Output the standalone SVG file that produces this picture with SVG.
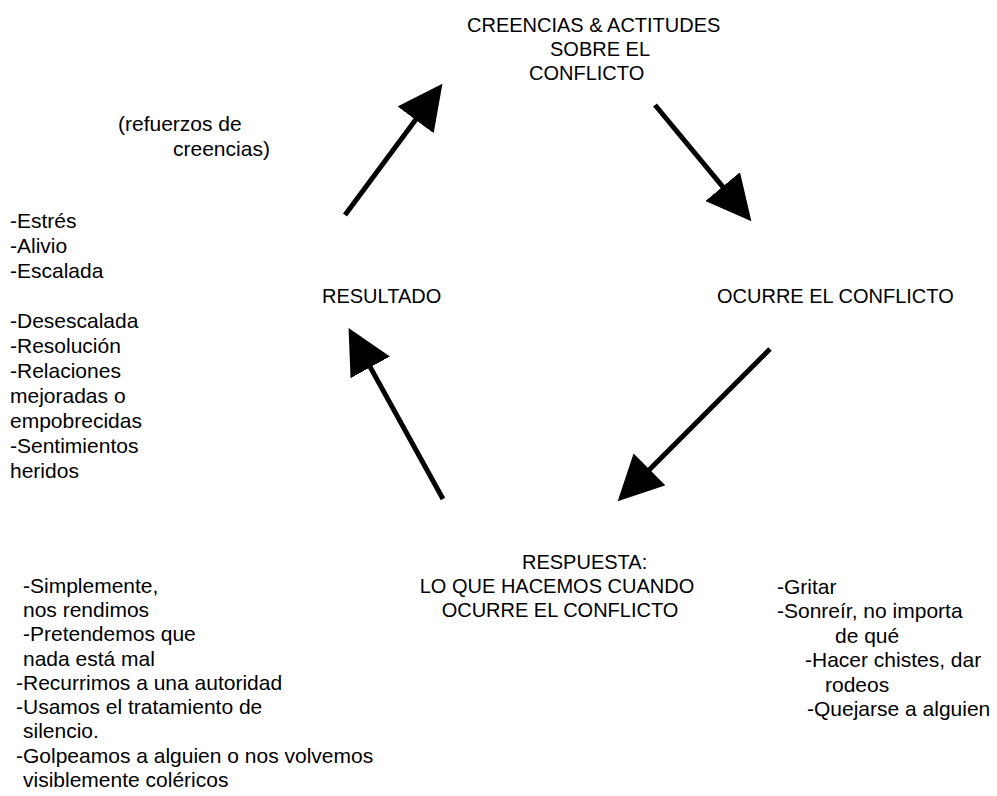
<svg xmlns="http://www.w3.org/2000/svg" width="997" height="796" viewBox="0 0 997 796">
<style>
  text { font-family: "Liberation Sans", Arial, sans-serif; font-size: 20px; fill: #000; }
  .list { font-size: 21px; }
  .mid { text-anchor: middle; }
  .conn { stroke: #000; stroke-width: 5; fill: none; marker-end: url(#ah); }
</style>
<defs>
  <marker id="ah" markerUnits="userSpaceOnUse" markerWidth="46" markerHeight="46" viewBox="0 0 46 46" refX="1" refY="22.5" orient="auto">
    <path d="M0,0 L45,22.5 L0,45 Z" fill="#000"/>
  </marker>
</defs>
<rect width="997" height="796" fill="#fff"/>

<g id="creencias">
  <text x="467" y="32">CREENCIAS &amp; ACTITUDES</text>
  <text x="550" y="56">SOBRE EL</text>
  <text x="529" y="80">CONFLICTO</text>
</g>

<g id="ocurre">
  <text x="717" y="303">OCURRE EL CONFLICTO</text>
</g>

<g id="respuesta">
  <text x="522" y="569">RESPUESTA:</text>
  <text class="mid" x="557" y="593">LO QUE HACEMOS CUANDO</text>
  <text class="mid" x="560" y="617">OCURRE EL CONFLICTO</text>
</g>

<g id="resultado">
  <text x="322" y="303">RESULTADO</text>
</g>

<g id="refuerzos" class="list">
  <text class="list" x="118" y="131">(refuerzos de</text>
  <text class="list" x="173" y="156">creencias)</text>
</g>

<g id="resultado-lista">
  <text class="list" x="10" y="228">-Estrés</text>
  <text class="list" x="10" y="253">-Alivio</text>
  <text class="list" x="10" y="278">-Escalada</text>
  <text class="list" x="10" y="328">-Desescalada</text>
  <text class="list" x="10" y="353">-Resolución</text>
  <text class="list" x="10" y="378">-Relaciones</text>
  <text class="list" x="10" y="403">mejoradas o</text>
  <text class="list" x="10" y="428">empobrecidas</text>
  <text class="list" x="10" y="453">-Sentimientos</text>
  <text class="list" x="10" y="478">heridos</text>
</g>

<g id="respuesta-izq">
  <text class="list" x="23" y="593">-Simplemente,</text>
  <text class="list" x="23" y="617">nos rendimos</text>
  <text class="list" x="23" y="641">-Pretendemos que</text>
  <text class="list" x="23" y="666">nada está mal</text>
  <text class="list" x="16" y="690">-Recurrimos a una autoridad</text>
  <text class="list" x="16" y="714">-Usamos el tratamiento de</text>
  <text class="list" x="23" y="738">silencio.</text>
  <text class="list" x="16" y="763">-Golpeamos a alguien o nos volvemos</text>
  <text class="list" x="23" y="787">visiblemente coléricos</text>
</g>

<g id="respuesta-der">
  <text class="list" x="777" y="594">-Gritar</text>
  <text class="list" x="777" y="618">-Sonreír, no importa</text>
  <text class="list" x="835" y="643">de qué</text>
  <text class="list" x="805" y="667">-Hacer chistes, dar</text>
  <text class="list" x="825" y="692">rodeos</text>
  <text class="list" x="807" y="716">-Quejarse a alguien</text>
</g>

<g id="connectors">
  <line class="conn" x1="345" y1="215" x2="416.2" y2="119.1"/>
  <line class="conn" x1="655" y1="105" x2="723.3" y2="187.4"/>
  <line class="conn" x1="770" y1="349" x2="648.8" y2="470.2"/>
  <line class="conn" x1="443" y1="499" x2="369.8" y2="366.4"/>
</g>
</svg>
